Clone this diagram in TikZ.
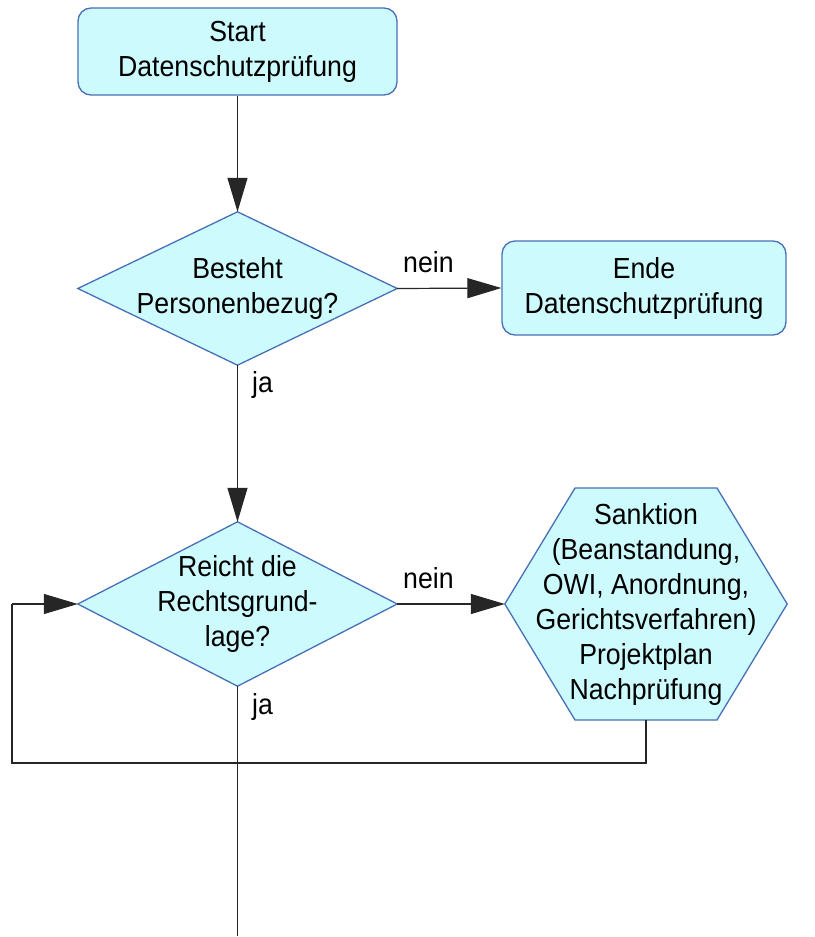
\documentclass[tikz,border=0pt]{standalone}
\usepackage{fontspec}
\setmainfont{Liberation Sans}[FakeStretch=0.92]
\usetikzlibrary{arrows.meta,backgrounds}
\definecolor{boxfill}{RGB}{204,250,253}
\definecolor{boxline}{RGB}{72,112,182}
\begin{document}
\begin{tikzpicture}[x=1pt,y=-1pt,
  every node/.style={font=\fontsize{29}{35}\selectfont, align=center},
  terminal/.style={draw=boxline, fill=boxfill, line width=1.3pt, rounded corners=13pt,
    minimum width=319pt, minimum height=87pt, inner sep=0pt},
  frame/.style={inner sep=0pt, minimum width=319pt},
  shapefill/.style={fill=boxfill, draw=boxline, line width=1.3pt, line join=miter},
  flow/.style={line width=1.2pt, draw=black!85},
  arrowflow/.style={flow, -{Triangle[length=34pt,width=20pt]}},
  lbl/.style={font=\fontsize{29}{35}\selectfont, inner sep=0pt}
]
\useasboundingbox (0,0) rectangle (814,937);

% boxes with rounded corners
\node[terminal] (start) at (237.5,51.5) {Start\\Datenschutzprüfung};
\node[terminal, minimum width=284pt, minimum height=94pt] (ende) at (644,288) {Ende\\Datenschutzprüfung};

% decisions: rectangular frames carry the text, the rhombus is drawn behind
\node[frame, minimum height=153pt] (d1) at (237.5,288.5) {Besteht\\Personenbezug?};
\node[frame, minimum height=164pt] (d2) at (237.5,604) {Reicht die\\Rechtsgrund-\\lage?};

% action: hexagon drawn behind its frame
\node[frame, minimum width=282pt, minimum height=232pt] (sank) at (646,604)
  {Sanktion\\(Beanstandung,\\OWI, Anordnung,\\Gerichtsverfahren)\\Projektplan\\Nachprüfung};

\begin{scope}[on background layer]
  \path[shapefill] (d1.north) -- (d1.east) -- (d1.south) -- (d1.west) -- cycle;
  \path[shapefill] (d2.north) -- (d2.east) -- (d2.south) -- (d2.west) -- cycle;
  \path[shapefill] (sank.west) -- (575,488) -- (717,488) -- (sank.east)
    -- (717,720) -- (575,720) -- cycle;
\end{scope}

% connectors
\coordinate (hexbot) at (646,720);
\coordinate (loopr) at (646,763);
\coordinate (loopl) at (12,763);
\coordinate (loopt) at (12,604);
\coordinate (endpt) at (237.5,936);

\draw[arrowflow] (start.south) -- (d1.north);
\draw[arrowflow] (d1.east) -- (ende.west);
\draw[arrowflow] (d1.south) -- (d2.north);
\draw[arrowflow] (d2.east) -- (sank.west);
\draw[flow] (hexbot) -- (loopr) -- (loopl) -- (loopt);
\draw[arrowflow] (loopt) -- (d2.west);
\draw[flow] (d2.south) -- (endpt);

% labels
\node[lbl, anchor=base west] (l1) at (403,272) {nein};
\node[lbl, anchor=base west] (l2) at (252,392) {ja};
\node[lbl, anchor=base west] (l3) at (403,588) {nein};
\node[lbl, anchor=base west] (l4) at (252,714) {ja};
\end{tikzpicture}
\end{document}
